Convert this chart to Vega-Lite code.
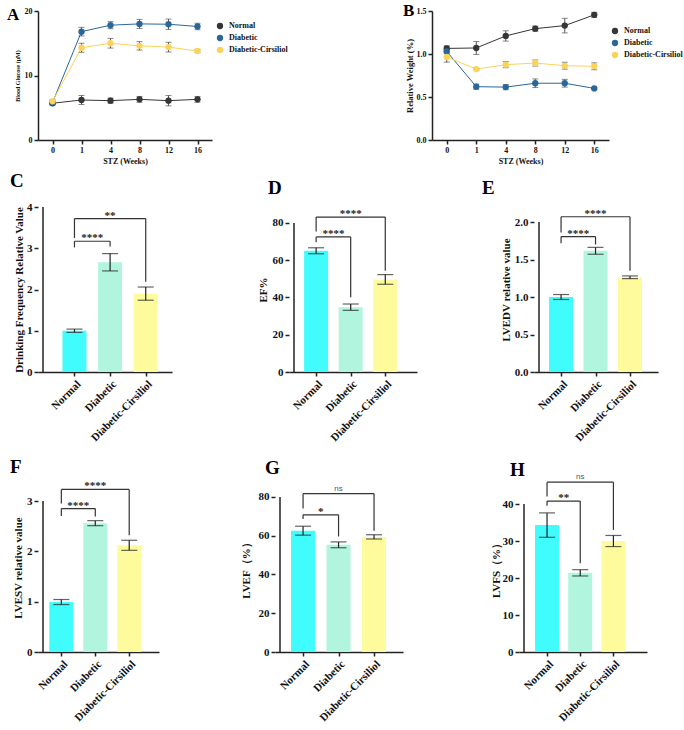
{
  "$schema": "https://vega.github.io/schema/vega-lite/v6.json",
  "padding": {"left": 7, "top": 2, "right": 2, "bottom": 2},
  "spacing": 15,
  "resolve": {"scale": {"color": "independent"}, "legend": {"color": "independent"}},
  "datasets": {
    "lines": [
      {"panel": "A", "week": 0, "group": "Normal", "mean": 5.7, "sem": 0.3},
      {"panel": "A", "week": 1, "group": "Normal", "mean": 6.2, "sem": 0.7},
      {"panel": "A", "week": 4, "group": "Normal", "mean": 6.1, "sem": 0.4},
      {"panel": "A", "week": 8, "group": "Normal", "mean": 6.3, "sem": 0.45},
      {"panel": "A", "week": 12, "group": "Normal", "mean": 6.1, "sem": 0.8},
      {"panel": "A", "week": 16, "group": "Normal", "mean": 6.3, "sem": 0.45},
      {"panel": "A", "week": 0, "group": "Diabetic", "mean": 5.8, "sem": 0.3},
      {"panel": "A", "week": 1, "group": "Diabetic", "mean": 16.8, "sem": 0.67},
      {"panel": "A", "week": 4, "group": "Diabetic", "mean": 17.8, "sem": 0.55},
      {"panel": "A", "week": 8, "group": "Diabetic", "mean": 18.0, "sem": 0.7},
      {"panel": "A", "week": 12, "group": "Diabetic", "mean": 17.95, "sem": 0.8},
      {"panel": "A", "week": 16, "group": "Diabetic", "mean": 17.6, "sem": 0.5},
      {"panel": "A", "week": 0, "group": "Diabetic-Cirsiliol", "mean": 6.0, "sem": 0.3},
      {"panel": "A", "week": 1, "group": "Diabetic-Cirsiliol", "mean": 14.3, "sem": 0.7},
      {"panel": "A", "week": 4, "group": "Diabetic-Cirsiliol", "mean": 15.0, "sem": 0.75},
      {"panel": "A", "week": 8, "group": "Diabetic-Cirsiliol", "mean": 14.6, "sem": 0.65},
      {"panel": "A", "week": 12, "group": "Diabetic-Cirsiliol", "mean": 14.4, "sem": 0.75},
      {"panel": "A", "week": 16, "group": "Diabetic-Cirsiliol", "mean": 13.8, "sem": 0.2},
      {"panel": "B", "week": 0, "group": "Normal", "mean": 1.065, "sem": 0.03},
      {"panel": "B", "week": 1, "group": "Normal", "mean": 1.07, "sem": 0.075},
      {"panel": "B", "week": 4, "group": "Normal", "mean": 1.21, "sem": 0.06},
      {"panel": "B", "week": 8, "group": "Normal", "mean": 1.295, "sem": 0.03},
      {"panel": "B", "week": 12, "group": "Normal", "mean": 1.33, "sem": 0.085},
      {"panel": "B", "week": 16, "group": "Normal", "mean": 1.455, "sem": 0.03},
      {"panel": "B", "week": 0, "group": "Diabetic", "mean": 1.03, "sem": 0.02},
      {"panel": "B", "week": 1, "group": "Diabetic", "mean": 0.62, "sem": 0.03},
      {"panel": "B", "week": 4, "group": "Diabetic", "mean": 0.615, "sem": 0.03},
      {"panel": "B", "week": 8, "group": "Diabetic", "mean": 0.66, "sem": 0.05},
      {"panel": "B", "week": 12, "group": "Diabetic", "mean": 0.66, "sem": 0.045},
      {"panel": "B", "week": 16, "group": "Diabetic", "mean": 0.6, "sem": 0.01},
      {"panel": "B", "week": 0, "group": "Diabetic-Cirsiliol", "mean": 0.965, "sem": 0.06},
      {"panel": "B", "week": 1, "group": "Diabetic-Cirsiliol", "mean": 0.825, "sem": 0.01},
      {"panel": "B", "week": 4, "group": "Diabetic-Cirsiliol", "mean": 0.876, "sem": 0.035},
      {"panel": "B", "week": 8, "group": "Diabetic-Cirsiliol", "mean": 0.895, "sem": 0.035},
      {"panel": "B", "week": 12, "group": "Diabetic-Cirsiliol", "mean": 0.864, "sem": 0.04},
      {"panel": "B", "week": 16, "group": "Diabetic-Cirsiliol", "mean": 0.857, "sem": 0.04}
    ],
    "bars": [
      {"panel": "C", "group": "Normal", "mean": 1.0, "sem": 0.04},
      {"panel": "C", "group": "Diabetic", "mean": 2.66, "sem": 0.21},
      {"panel": "C", "group": "Diabetic-Cirsiliol", "mean": 1.9, "sem": 0.16},
      {"panel": "D", "group": "Normal", "mean": 65.1, "sem": 1.6},
      {"panel": "D", "group": "Diabetic", "mean": 34.8, "sem": 1.7},
      {"panel": "D", "group": "Diabetic-Cirsiliol", "mean": 49.7, "sem": 2.6},
      {"panel": "E", "group": "Normal", "mean": 1.0, "sem": 0.033},
      {"panel": "E", "group": "Diabetic", "mean": 1.616, "sem": 0.046},
      {"panel": "E", "group": "Diabetic-Cirsiliol", "mean": 1.263, "sem": 0.018},
      {"panel": "F", "group": "Normal", "mean": 0.993, "sem": 0.05},
      {"panel": "F", "group": "Diabetic", "mean": 2.56, "sem": 0.05},
      {"panel": "F", "group": "Diabetic-Cirsiliol", "mean": 2.12, "sem": 0.1},
      {"panel": "G", "group": "Normal", "mean": 62.6, "sem": 2.3},
      {"panel": "G", "group": "Diabetic", "mean": 55.3, "sem": 1.5},
      {"panel": "G", "group": "Diabetic-Cirsiliol", "mean": 59.4, "sem": 1.1},
      {"panel": "H", "group": "Normal", "mean": 34.3, "sem": 3.3},
      {"panel": "H", "group": "Diabetic", "mean": 21.4, "sem": 0.85},
      {"panel": "H", "group": "Diabetic-Cirsiliol", "mean": 30.0, "sem": 1.5}
    ],
    "brackets": [
      {"panel": "C", "g1": "Normal", "g2": "Diabetic", "level": 3.17, "end1": 3.02, "end2": 3.04, "label": "****"},
      {"panel": "C", "g1": "Normal", "g2": "Diabetic-Cirsiliol", "level": 3.72, "end1": 3.25, "end2": 2.19, "label": "**"},
      {"panel": "D", "g1": "Normal", "g2": "Diabetic", "level": 72.5, "end1": 69.7, "end2": 40.1, "label": "****"},
      {"panel": "D", "g1": "Normal", "g2": "Diabetic-Cirsiliol", "level": 83.2, "end1": 75.5, "end2": 54.3, "label": "****"},
      {"panel": "E", "g1": "Normal", "g2": "Diabetic", "level": 1.806, "end1": 1.717, "end2": 1.7, "label": "****"},
      {"panel": "E", "g1": "Normal", "g2": "Diabetic-Cirsiliol", "level": 2.07, "end1": 1.86, "end2": 1.35, "label": "****"},
      {"panel": "F", "g1": "Normal", "g2": "Diabetic", "level": 2.85, "end1": 2.7, "end2": 2.69, "label": "****"},
      {"panel": "F", "g1": "Normal", "g2": "Diabetic-Cirsiliol", "level": 3.23, "end1": 2.95, "end2": 2.32, "label": "****"},
      {"panel": "G", "g1": "Normal", "g2": "Diabetic", "level": 70.8, "end1": 68.6, "end2": 59.6, "label": "*"},
      {"panel": "G", "g1": "Normal", "g2": "Diabetic-Cirsiliol", "level": 81.7, "end1": 74.1, "end2": 62.6, "label": "ns"},
      {"panel": "H", "g1": "Normal", "g2": "Diabetic", "level": 40.8, "end1": 39.5, "end2": 24.0, "label": "**"},
      {"panel": "H", "g1": "Normal", "g2": "Diabetic-Cirsiliol", "level": 45.9, "end1": 42.0, "end2": 33.0, "label": "ns"}
    ]
  },
  "vconcat": [
    {
      "spacing": 6,
      "resolve": {"scale": {"color": "independent"}, "legend": {"color": "independent"}},
      "vconcat": [
        {
          "bounds": "flush",
          "spacing": 220,
          "resolve": {"scale": {"color": "independent"}, "legend": {"color": "independent"}},
          "hconcat": [
            {
              "width": 174,
              "height": 129,
              "title": {"text": "A", "fontSize": 17, "dx": -31, "dy": 21},
              "data": {"name": "lines"},
              "transform": [{"filter": "datum.panel === 'A'"}],
              "encoding": {
                "x": {"field": "week", "type": "ordinal", "scale": {"type": "point", "padding": 0.5},
                      "axis": {"title": "STZ (Weeks)", "labelAngle": 0, "labelFontSize": 8, "titleFontSize": 8, "titlePadding": 3}}
              },
              "layer": [
                {
                  "mark": {"type": "line", "strokeWidth": 1},
                  "encoding": {
                    "y": {"field": "mean", "type": "quantitative", "scale": {"domain": [0, 20], "nice": false},
                          "axis": {"values": [0, 5, 10, 15, 20], "title": "Blood Glucose (μM)", "labelFontSize": 8, "titleFontSize": 6, "titlePadding": 4}},
                    "stroke": {"field": "group", "type": "nominal",
                               "scale": {"domain": ["Normal", "Diabetic", "Diabetic-Cirsiliol"], "range": ["#363636", "#2a6799", "#fbd35a"]},
                               "legend": null}
                  }
                },
                {
                  "mark": {"type": "errorbar", "ticks": {"size": 6}, "color": "#555555", "thickness": 1},
                  "encoding": {
                    "y": {"field": "mean", "type": "quantitative", "title": "Blood Glucose (μM)"},
                    "yError": {"field": "sem"}
                  }
                },
                {
                  "mark": {"type": "point", "filled": true, "size": 40, "opacity": 1},
                  "encoding": {
                    "y": {"field": "mean", "type": "quantitative"},
                    "color": {"field": "group", "type": "nominal",
                              "scale": {"domain": ["Normal", "Diabetic", "Diabetic-Cirsiliol"], "range": ["#363636", "#2a6799", "#fbd35a"]},
                              "legend": {"title": null, "orient": "right", "offset": -7.5, "padding": 11, "symbolType": "circle", "symbolSize": 40, "labelFontSize": 8, "rowPadding": 4, "labelOffset": 5}}
                  }
                }
              ]
            },
            {
              "width": 177,
              "height": 129,
              "title": {"text": "B", "fontSize": 17, "dx": -29, "dy": 17},
              "data": {"name": "lines"},
              "transform": [{"filter": "datum.panel === 'B'"}],
              "encoding": {
                "x": {"field": "week", "type": "ordinal", "scale": {"type": "point", "padding": 0.5},
                      "axis": {"title": "STZ (Weeks)", "labelAngle": 0, "labelFontSize": 8, "titleFontSize": 8, "titlePadding": 3}}
              },
              "layer": [
                {
                  "mark": {"type": "line", "strokeWidth": 1},
                  "encoding": {
                    "y": {"field": "mean", "type": "quantitative", "scale": {"domain": [0, 1.5], "nice": false},
                          "axis": {"values": [0, 0.5, 1, 1.5], "format": ".1f", "title": "Relative Weight (%)", "labelFontSize": 8, "titleFontSize": 8.5, "titlePadding": 2}},
                    "stroke": {"field": "group", "type": "nominal",
                               "scale": {"domain": ["Normal", "Diabetic", "Diabetic-Cirsiliol"], "range": ["#363636", "#2a6799", "#fbd35a"]},
                               "legend": null}
                  }
                },
                {
                  "mark": {"type": "errorbar", "ticks": {"size": 6}, "color": "#555555", "thickness": 1},
                  "encoding": {
                    "y": {"field": "mean", "type": "quantitative", "title": "Relative Weight (%)"},
                    "yError": {"field": "sem"}
                  }
                },
                {
                  "mark": {"type": "point", "filled": true, "size": 40, "opacity": 1},
                  "encoding": {
                    "y": {"field": "mean", "type": "quantitative"},
                    "color": {"field": "group", "type": "nominal",
                              "scale": {"domain": ["Normal", "Diabetic", "Diabetic-Cirsiliol"], "range": ["#363636", "#2a6799", "#fbd35a"]},
                              "legend": {"title": null, "orient": "right", "offset": -14, "padding": 16, "symbolType": "circle", "symbolSize": 40, "labelFontSize": 8, "rowPadding": 4, "labelOffset": 5}}
                  }
                }
              ]
            }
          ]
        },
        {
          "bounds": "flush",
          "spacing": 117,
          "hconcat": [
            {
              "width": 134,
              "height": 165,
              "title": {"text": "C", "fontSize": 19, "dx": -28, "dy": -6.5},
              "layer": [
                {
                  "data": {"name": "bars"},
                  "transform": [{"filter": "datum.panel === 'C'"}, {"calculate": "indexof(['Normal','Diabetic','Diabetic-Cirsiliol'], datum.group)", "as": "idx"}],
                  "layer": [
                    {
                      "mark": {"type": "bar", "width": 24, "orient": "vertical"},
                      "encoding": {
                        "x": {"field": "idx", "type": "quantitative", "scale": {"domain": [-0.883, 2.597], "nice": false, "zero": false},
                              "axis": {"values": [0, 1, 2], "labelExpr": "['Normal','Diabetic','Diabetic-Cirsiliol'][datum.value]", "labelAngle": -45, "title": null, "labelFlush": false, "labelOverlap": false}},
                        "y": {"field": "mean", "type": "quantitative", "scale": {"domain": [0, 4], "nice": false},
                              "axis": {"values": [0, 1, 2, 3, 4], "format": "d", "title": "Drinking Frequency Relative Value", "domain": false, "titlePadding": 2}},
                        "color": {"field": "group", "type": "nominal", "scale": {"domain": ["Normal", "Diabetic", "Diabetic-Cirsiliol"], "range": ["#40FCFC", "#B2F5DE", "#FEFB9C"]}, "legend": null}
                      }
                    },
                    {
                      "mark": {"type": "errorbar", "ticks": {"size": 16}, "color": "#222222", "thickness": 1.2},
                      "encoding": {
                        "x": {"field": "idx", "type": "quantitative"},
                        "y": {"field": "mean", "type": "quantitative", "title": "Drinking Frequency Relative Value"},
                        "yError": {"field": "sem"}
                      }
                    }
                  ]
                },
                {
                  "data": {"values": [{}]},
                  "mark": {"type": "rule", "color": "#222222", "strokeWidth": 1.5},
                  "encoding": {
                    "x": {"datum": -0.883, "type": "quantitative"},
                    "y": {"datum": 0, "type": "quantitative"},
                    "y2": {"datum": 4}
                  }
                },
                {
                  "data": {"name": "brackets"},
                  "transform": [
                    {"filter": "datum.panel === 'C'"},
                    {"calculate": "indexof(['Normal','Diabetic','Diabetic-Cirsiliol'], datum.g1)", "as": "p1"},
                    {"calculate": "indexof(['Normal','Diabetic','Diabetic-Cirsiliol'], datum.g2)", "as": "p2"},
                    {"calculate": "(datum.p1 + datum.p2) / 2", "as": "mid"}
                  ],
                  "layer": [
                    {"mark": {"type": "rule", "color": "#333333", "strokeWidth": 1.2},
                     "encoding": {"x": {"field": "p1", "type": "quantitative"}, "x2": {"field": "p2"}, "y": {"field": "level", "type": "quantitative"}}},
                    {"mark": {"type": "rule", "color": "#333333", "strokeWidth": 1.2},
                     "encoding": {"x": {"field": "p1", "type": "quantitative"}, "y": {"field": "level", "type": "quantitative"}, "y2": {"field": "end1"}}},
                    {"mark": {"type": "rule", "color": "#333333", "strokeWidth": 1.2},
                     "encoding": {"x": {"field": "p2", "type": "quantitative"}, "y": {"field": "level", "type": "quantitative"}, "y2": {"field": "end2"}}},
                    {"transform": [{"filter": "datum.label !== 'ns'"}],
                     "mark": {"type": "text", "font": "Liberation Serif", "fontWeight": "bold", "fontSize": 11, "baseline": "alphabetic", "color": "#222222"},
                     "encoding": {"x": {"field": "mid", "type": "quantitative"}, "y": {"field": "level", "type": "quantitative"}, "text": {"field": "label"}}},
                    {"transform": [{"filter": "datum.label === 'ns'"}],
                     "mark": {"type": "text", "font": "Liberation Sans", "fontSize": 8, "baseline": "alphabetic", "dy": -3, "color": "#555555"},
                     "encoding": {"x": {"field": "mid", "type": "quantitative"}, "y": {"field": "level", "type": "quantitative"}, "text": {"field": "label"}}}
                  ]
                }
              ]
            },
            {
              "width": 128,
              "height": 165,
              "title": {"text": "D", "fontSize": 19, "dx": -21, "dy": -5},
              "layer": [
                {
                  "data": {"name": "bars"},
                  "transform": [{"filter": "datum.panel === 'D'"}, {"calculate": "indexof(['Normal','Diabetic','Diabetic-Cirsiliol'], datum.group)", "as": "idx"}],
                  "layer": [
                    {
                      "mark": {"type": "bar", "width": 24, "orient": "vertical"},
                      "encoding": {
                        "x": {"field": "idx", "type": "quantitative", "scale": {"domain": [-0.64, 2.773], "nice": false, "zero": false},
                              "axis": {"values": [0, 1, 2], "labelExpr": "['Normal','Diabetic','Diabetic-Cirsiliol'][datum.value]", "labelAngle": -45, "title": null, "labelFlush": false, "labelOverlap": false}},
                        "y": {"field": "mean", "type": "quantitative", "scale": {"domain": [0, 88.59], "nice": false},
                              "axis": {"values": [0, 20, 40, 60, 80], "format": "d", "title": "EF%", "domain": false, "titlePadding": 4}},
                        "color": {"field": "group", "type": "nominal", "scale": {"domain": ["Normal", "Diabetic", "Diabetic-Cirsiliol"], "range": ["#40FCFC", "#B2F5DE", "#FEFB9C"]}, "legend": null}
                      }
                    },
                    {
                      "mark": {"type": "errorbar", "ticks": {"size": 16}, "color": "#222222", "thickness": 1.2},
                      "encoding": {
                        "x": {"field": "idx", "type": "quantitative"},
                        "y": {"field": "mean", "type": "quantitative", "title": "EF%"},
                        "yError": {"field": "sem"}
                      }
                    }
                  ]
                },
                {
                  "data": {"values": [{}]},
                  "mark": {"type": "rule", "color": "#222222", "strokeWidth": 1.5},
                  "encoding": {
                    "x": {"datum": -0.64, "type": "quantitative"},
                    "y": {"datum": 0, "type": "quantitative"},
                    "y2": {"datum": 80}
                  }
                },
                {
                  "data": {"name": "brackets"},
                  "transform": [
                    {"filter": "datum.panel === 'D'"},
                    {"calculate": "indexof(['Normal','Diabetic','Diabetic-Cirsiliol'], datum.g1)", "as": "p1"},
                    {"calculate": "indexof(['Normal','Diabetic','Diabetic-Cirsiliol'], datum.g2)", "as": "p2"},
                    {"calculate": "(datum.p1 + datum.p2) / 2", "as": "mid"}
                  ],
                  "layer": [
                    {"mark": {"type": "rule", "color": "#333333", "strokeWidth": 1.2},
                     "encoding": {"x": {"field": "p1", "type": "quantitative"}, "x2": {"field": "p2"}, "y": {"field": "level", "type": "quantitative"}}},
                    {"mark": {"type": "rule", "color": "#333333", "strokeWidth": 1.2},
                     "encoding": {"x": {"field": "p1", "type": "quantitative"}, "y": {"field": "level", "type": "quantitative"}, "y2": {"field": "end1"}}},
                    {"mark": {"type": "rule", "color": "#333333", "strokeWidth": 1.2},
                     "encoding": {"x": {"field": "p2", "type": "quantitative"}, "y": {"field": "level", "type": "quantitative"}, "y2": {"field": "end2"}}},
                    {"transform": [{"filter": "datum.label !== 'ns'"}],
                     "mark": {"type": "text", "font": "Liberation Serif", "fontWeight": "bold", "fontSize": 11, "baseline": "alphabetic", "color": "#222222"},
                     "encoding": {"x": {"field": "mid", "type": "quantitative"}, "y": {"field": "level", "type": "quantitative"}, "text": {"field": "label"}}},
                    {"transform": [{"filter": "datum.label === 'ns'"}],
                     "mark": {"type": "text", "font": "Liberation Sans", "fontSize": 8, "baseline": "alphabetic", "dy": -3, "color": "#555555"},
                     "encoding": {"x": {"field": "mid", "type": "quantitative"}, "y": {"field": "level", "type": "quantitative"}, "text": {"field": "label"}}}
                  ]
                }
              ]
            },
            {
              "width": 124,
              "height": 165,
              "title": {"text": "E", "fontSize": 19, "dx": -52, "dy": -5},
              "layer": [
                {
                  "data": {"name": "bars"},
                  "transform": [{"filter": "datum.panel === 'E'"}, {"calculate": "indexof(['Normal','Diabetic','Diabetic-Cirsiliol'], datum.group)", "as": "idx"}],
                  "layer": [
                    {
                      "mark": {"type": "bar", "width": 24, "orient": "vertical"},
                      "encoding": {
                        "x": {"field": "idx", "type": "quantitative", "scale": {"domain": [-0.64, 2.667], "nice": false, "zero": false},
                              "axis": {"values": [0, 1, 2], "labelExpr": "['Normal','Diabetic','Diabetic-Cirsiliol'][datum.value]", "labelAngle": -45, "title": null, "labelFlush": false, "labelOverlap": false}},
                        "y": {"field": "mean", "type": "quantitative", "scale": {"domain": [0, 2.2], "nice": false},
                              "axis": {"values": [0, 0.5, 1, 1.5, 2], "format": ".1f", "title": "LVEDV relative value", "domain": false, "titlePadding": 3}},
                        "color": {"field": "group", "type": "nominal", "scale": {"domain": ["Normal", "Diabetic", "Diabetic-Cirsiliol"], "range": ["#40FCFC", "#B2F5DE", "#FEFB9C"]}, "legend": null}
                      }
                    },
                    {
                      "mark": {"type": "errorbar", "ticks": {"size": 16}, "color": "#222222", "thickness": 1.2},
                      "encoding": {
                        "x": {"field": "idx", "type": "quantitative"},
                        "y": {"field": "mean", "type": "quantitative", "title": "LVEDV relative value"},
                        "yError": {"field": "sem"}
                      }
                    }
                  ]
                },
                {
                  "data": {"values": [{}]},
                  "mark": {"type": "rule", "color": "#222222", "strokeWidth": 1.5},
                  "encoding": {
                    "x": {"datum": -0.64, "type": "quantitative"},
                    "y": {"datum": 0, "type": "quantitative"},
                    "y2": {"datum": 2}
                  }
                },
                {
                  "data": {"name": "brackets"},
                  "transform": [
                    {"filter": "datum.panel === 'E'"},
                    {"calculate": "indexof(['Normal','Diabetic','Diabetic-Cirsiliol'], datum.g1)", "as": "p1"},
                    {"calculate": "indexof(['Normal','Diabetic','Diabetic-Cirsiliol'], datum.g2)", "as": "p2"},
                    {"calculate": "(datum.p1 + datum.p2) / 2", "as": "mid"}
                  ],
                  "layer": [
                    {"mark": {"type": "rule", "color": "#333333", "strokeWidth": 1.2},
                     "encoding": {"x": {"field": "p1", "type": "quantitative"}, "x2": {"field": "p2"}, "y": {"field": "level", "type": "quantitative"}}},
                    {"mark": {"type": "rule", "color": "#333333", "strokeWidth": 1.2},
                     "encoding": {"x": {"field": "p1", "type": "quantitative"}, "y": {"field": "level", "type": "quantitative"}, "y2": {"field": "end1"}}},
                    {"mark": {"type": "rule", "color": "#333333", "strokeWidth": 1.2},
                     "encoding": {"x": {"field": "p2", "type": "quantitative"}, "y": {"field": "level", "type": "quantitative"}, "y2": {"field": "end2"}}},
                    {"transform": [{"filter": "datum.label !== 'ns'"}],
                     "mark": {"type": "text", "font": "Liberation Serif", "fontWeight": "bold", "fontSize": 11, "baseline": "alphabetic", "color": "#222222"},
                     "encoding": {"x": {"field": "mid", "type": "quantitative"}, "y": {"field": "level", "type": "quantitative"}, "text": {"field": "label"}}},
                    {"transform": [{"filter": "datum.label === 'ns'"}],
                     "mark": {"type": "text", "font": "Liberation Sans", "fontSize": 8, "baseline": "alphabetic", "dy": -3, "color": "#555555"},
                     "encoding": {"x": {"field": "mid", "type": "quantitative"}, "y": {"field": "level", "type": "quantitative"}, "text": {"field": "label"}}}
                  ]
                }
              ]
            }
          ]
        }
      ]
    },
    {
      "bounds": "flush",
      "spacing": 116,
      "hconcat": [
        {
          "width": 121,
          "height": 169,
          "title": {"text": "F", "fontSize": 19, "dx": -28, "dy": 0.6},
          "layer": [
            {
              "data": {"name": "bars"},
              "transform": [{"filter": "datum.panel === 'F'"}, {"calculate": "indexof(['Normal','Diabetic','Diabetic-Cirsiliol'], datum.group)", "as": "idx"}],
              "layer": [
                {
                  "mark": {"type": "bar", "width": 24, "orient": "vertical"},
                  "encoding": {
                    "x": {"field": "idx", "type": "quantitative", "scale": {"domain": [-0.54, 2.73], "nice": false, "zero": false},
                          "axis": {"values": [0, 1, 2], "labelExpr": "['Normal','Diabetic','Diabetic-Cirsiliol'][datum.value]", "labelAngle": -45, "title": null, "labelFlush": false, "labelOverlap": false}},
                    "y": {"field": "mean", "type": "quantitative", "scale": {"domain": [0, 3.358], "nice": false},
                          "axis": {"values": [0, 1, 2, 3], "format": "d", "title": "LVESV relative value", "domain": false, "titlePadding": 3}},
                    "color": {"field": "group", "type": "nominal", "scale": {"domain": ["Normal", "Diabetic", "Diabetic-Cirsiliol"], "range": ["#40FCFC", "#B2F5DE", "#FEFB9C"]}, "legend": null}
                  }
                },
                {
                  "mark": {"type": "errorbar", "ticks": {"size": 16}, "color": "#222222", "thickness": 1.2},
                  "encoding": {
                    "x": {"field": "idx", "type": "quantitative"},
                    "y": {"field": "mean", "type": "quantitative", "title": "LVESV relative value"},
                    "yError": {"field": "sem"}
                  }
                }
              ]
            },
            {
              "data": {"values": [{}]},
              "mark": {"type": "rule", "color": "#222222", "strokeWidth": 1.5},
              "encoding": {
                "x": {"datum": -0.54, "type": "quantitative"},
                "y": {"datum": 0, "type": "quantitative"},
                "y2": {"datum": 3}
              }
            },
            {
              "data": {"name": "brackets"},
              "transform": [
                {"filter": "datum.panel === 'F'"},
                {"calculate": "indexof(['Normal','Diabetic','Diabetic-Cirsiliol'], datum.g1)", "as": "p1"},
                {"calculate": "indexof(['Normal','Diabetic','Diabetic-Cirsiliol'], datum.g2)", "as": "p2"},
                {"calculate": "(datum.p1 + datum.p2) / 2", "as": "mid"}
              ],
              "layer": [
                {"mark": {"type": "rule", "color": "#333333", "strokeWidth": 1.2},
                 "encoding": {"x": {"field": "p1", "type": "quantitative"}, "x2": {"field": "p2"}, "y": {"field": "level", "type": "quantitative"}}},
                {"mark": {"type": "rule", "color": "#333333", "strokeWidth": 1.2},
                 "encoding": {"x": {"field": "p1", "type": "quantitative"}, "y": {"field": "level", "type": "quantitative"}, "y2": {"field": "end1"}}},
                {"mark": {"type": "rule", "color": "#333333", "strokeWidth": 1.2},
                 "encoding": {"x": {"field": "p2", "type": "quantitative"}, "y": {"field": "level", "type": "quantitative"}, "y2": {"field": "end2"}}},
                {"transform": [{"filter": "datum.label !== 'ns'"}],
                 "mark": {"type": "text", "font": "Liberation Serif", "fontWeight": "bold", "fontSize": 11, "baseline": "alphabetic", "color": "#222222"},
                 "encoding": {"x": {"field": "mid", "type": "quantitative"}, "y": {"field": "level", "type": "quantitative"}, "text": {"field": "label"}}},
                {"transform": [{"filter": "datum.label === 'ns'"}],
                 "mark": {"type": "text", "font": "Liberation Sans", "fontSize": 8, "baseline": "alphabetic", "dy": -3, "color": "#555555"},
                 "encoding": {"x": {"field": "mid", "type": "quantitative"}, "y": {"field": "level", "type": "quantitative"}, "text": {"field": "label"}}}
              ]
            }
          ]
        },
        {
          "width": 128,
          "height": 169,
          "title": {"text": "G", "fontSize": 19, "dx": -10, "dy": -0.7},
          "layer": [
            {
              "data": {"name": "bars"},
              "transform": [{"filter": "datum.panel === 'G'"}, {"calculate": "indexof(['Normal','Diabetic','Diabetic-Cirsiliol'], datum.group)", "as": "idx"}],
              "layer": [
                {
                  "mark": {"type": "bar", "width": 24, "orient": "vertical"},
                  "encoding": {
                    "x": {"field": "idx", "type": "quantitative", "scale": {"domain": [-0.65, 2.675], "nice": false, "zero": false},
                          "axis": {"values": [0, 1, 2], "labelExpr": "['Normal','Diabetic','Diabetic-Cirsiliol'][datum.value]", "labelAngle": -45, "title": null, "labelFlush": false, "labelOverlap": false}},
                    "y": {"field": "mean", "type": "quantitative", "scale": {"domain": [0, 87.2], "nice": false},
                          "axis": {"values": [0, 20, 40, 60, 80], "format": "d", "title": "LVEF（%）", "domain": false, "titlePadding": 7}},
                    "color": {"field": "group", "type": "nominal", "scale": {"domain": ["Normal", "Diabetic", "Diabetic-Cirsiliol"], "range": ["#40FCFC", "#B2F5DE", "#FEFB9C"]}, "legend": null}
                  }
                },
                {
                  "mark": {"type": "errorbar", "ticks": {"size": 16}, "color": "#222222", "thickness": 1.2},
                  "encoding": {
                    "x": {"field": "idx", "type": "quantitative"},
                    "y": {"field": "mean", "type": "quantitative", "title": "LVEF（%）"},
                    "yError": {"field": "sem"}
                  }
                }
              ]
            },
            {
              "data": {"values": [{}]},
              "mark": {"type": "rule", "color": "#222222", "strokeWidth": 1.5},
              "encoding": {
                "x": {"datum": -0.65, "type": "quantitative"},
                "y": {"datum": 0, "type": "quantitative"},
                "y2": {"datum": 80}
              }
            },
            {
              "data": {"name": "brackets"},
              "transform": [
                {"filter": "datum.panel === 'G'"},
                {"calculate": "indexof(['Normal','Diabetic','Diabetic-Cirsiliol'], datum.g1)", "as": "p1"},
                {"calculate": "indexof(['Normal','Diabetic','Diabetic-Cirsiliol'], datum.g2)", "as": "p2"},
                {"calculate": "(datum.p1 + datum.p2) / 2", "as": "mid"}
              ],
              "layer": [
                {"mark": {"type": "rule", "color": "#333333", "strokeWidth": 1.2},
                 "encoding": {"x": {"field": "p1", "type": "quantitative"}, "x2": {"field": "p2"}, "y": {"field": "level", "type": "quantitative"}}},
                {"mark": {"type": "rule", "color": "#333333", "strokeWidth": 1.2},
                 "encoding": {"x": {"field": "p1", "type": "quantitative"}, "y": {"field": "level", "type": "quantitative"}, "y2": {"field": "end1"}}},
                {"mark": {"type": "rule", "color": "#333333", "strokeWidth": 1.2},
                 "encoding": {"x": {"field": "p2", "type": "quantitative"}, "y": {"field": "level", "type": "quantitative"}, "y2": {"field": "end2"}}},
                {"transform": [{"filter": "datum.label !== 'ns'"}],
                 "mark": {"type": "text", "font": "Liberation Serif", "fontWeight": "bold", "fontSize": 11, "baseline": "alphabetic", "color": "#222222"},
                 "encoding": {"x": {"field": "mid", "type": "quantitative"}, "y": {"field": "level", "type": "quantitative"}, "text": {"field": "label"}}},
                {"transform": [{"filter": "datum.label === 'ns'"}],
                 "mark": {"type": "text", "font": "Liberation Sans", "fontSize": 8, "baseline": "alphabetic", "dy": -3, "color": "#555555"},
                 "encoding": {"x": {"field": "mid", "type": "quantitative"}, "y": {"field": "level", "type": "quantitative"}, "text": {"field": "label"}}}
              ]
            }
          ]
        },
        {
          "width": 128,
          "height": 169,
          "title": {"text": "H", "fontSize": 19, "dx": -9, "dy": 10.8},
          "layer": [
            {
              "data": {"name": "bars"},
              "transform": [{"filter": "datum.panel === 'H'"}, {"calculate": "indexof(['Normal','Diabetic','Diabetic-Cirsiliol'], datum.group)", "as": "idx"}],
              "layer": [
                {
                  "mark": {"type": "bar", "width": 24, "orient": "vertical"},
                  "encoding": {
                    "x": {"field": "idx", "type": "quantitative", "scale": {"domain": [-0.694, 2.861], "nice": false, "zero": false},
                          "axis": {"values": [0, 1, 2], "labelExpr": "['Normal','Diabetic','Diabetic-Cirsiliol'][datum.value]", "labelAngle": -45, "title": null, "labelFlush": false, "labelOverlap": false}},
                    "y": {"field": "mean", "type": "quantitative", "scale": {"domain": [0, 45.68], "nice": false},
                          "axis": {"values": [0, 10, 20, 30, 40], "format": "d", "title": "LVFS（%）", "domain": false, "titlePadding": 1}},
                    "color": {"field": "group", "type": "nominal", "scale": {"domain": ["Normal", "Diabetic", "Diabetic-Cirsiliol"], "range": ["#40FCFC", "#B2F5DE", "#FEFB9C"]}, "legend": null}
                  }
                },
                {
                  "mark": {"type": "errorbar", "ticks": {"size": 16}, "color": "#222222", "thickness": 1.2},
                  "encoding": {
                    "x": {"field": "idx", "type": "quantitative"},
                    "y": {"field": "mean", "type": "quantitative", "title": "LVFS（%）"},
                    "yError": {"field": "sem"}
                  }
                }
              ]
            },
            {
              "data": {"values": [{}]},
              "mark": {"type": "rule", "color": "#222222", "strokeWidth": 1.5},
              "encoding": {
                "x": {"datum": -0.694, "type": "quantitative"},
                "y": {"datum": 0, "type": "quantitative"},
                "y2": {"datum": 40}
              }
            },
            {
              "data": {"name": "brackets"},
              "transform": [
                {"filter": "datum.panel === 'H'"},
                {"calculate": "indexof(['Normal','Diabetic','Diabetic-Cirsiliol'], datum.g1)", "as": "p1"},
                {"calculate": "indexof(['Normal','Diabetic','Diabetic-Cirsiliol'], datum.g2)", "as": "p2"},
                {"calculate": "(datum.p1 + datum.p2) / 2", "as": "mid"}
              ],
              "layer": [
                {"mark": {"type": "rule", "color": "#333333", "strokeWidth": 1.2},
                 "encoding": {"x": {"field": "p1", "type": "quantitative"}, "x2": {"field": "p2"}, "y": {"field": "level", "type": "quantitative"}}},
                {"mark": {"type": "rule", "color": "#333333", "strokeWidth": 1.2},
                 "encoding": {"x": {"field": "p1", "type": "quantitative"}, "y": {"field": "level", "type": "quantitative"}, "y2": {"field": "end1"}}},
                {"mark": {"type": "rule", "color": "#333333", "strokeWidth": 1.2},
                 "encoding": {"x": {"field": "p2", "type": "quantitative"}, "y": {"field": "level", "type": "quantitative"}, "y2": {"field": "end2"}}},
                {"transform": [{"filter": "datum.label !== 'ns'"}],
                 "mark": {"type": "text", "font": "Liberation Serif", "fontWeight": "bold", "fontSize": 11, "baseline": "alphabetic", "color": "#222222"},
                 "encoding": {"x": {"field": "mid", "type": "quantitative"}, "y": {"field": "level", "type": "quantitative"}, "text": {"field": "label"}}},
                {"transform": [{"filter": "datum.label === 'ns'"}],
                 "mark": {"type": "text", "font": "Liberation Sans", "fontSize": 8, "baseline": "alphabetic", "dy": -3, "color": "#555555"},
                 "encoding": {"x": {"field": "mid", "type": "quantitative"}, "y": {"field": "level", "type": "quantitative"}, "text": {"field": "label"}}}
              ]
            }
          ]
        }
      ]
    }
  ],
  "config": {
    "view": {"stroke": null},
    "font": "Liberation Serif",
    "axis": {
      "grid": false,
      "labelFont": "Liberation Serif",
      "labelFontWeight": "bold",
      "labelColor": "#111111",
      "labelFontSize": 11,
      "titleFont": "Liberation Serif",
      "titleFontWeight": "bold",
      "titleColor": "#111111",
      "titleFontSize": 11,
      "domainColor": "#222222",
      "tickColor": "#222222",
      "domainWidth": 1.5,
      "tickWidth": 1.5,
      "tickSize": 4,
      "labelPadding": 2
    },
    "legend": {"labelFont": "Liberation Serif", "labelFontWeight": "bold", "labelColor": "#111111"},
    "title": {"font": "Liberation Serif", "fontWeight": "bold", "color": "#000000", "anchor": "start", "frame": "group", "offset": 0, "baseline": "alphabetic"}
  }
}
